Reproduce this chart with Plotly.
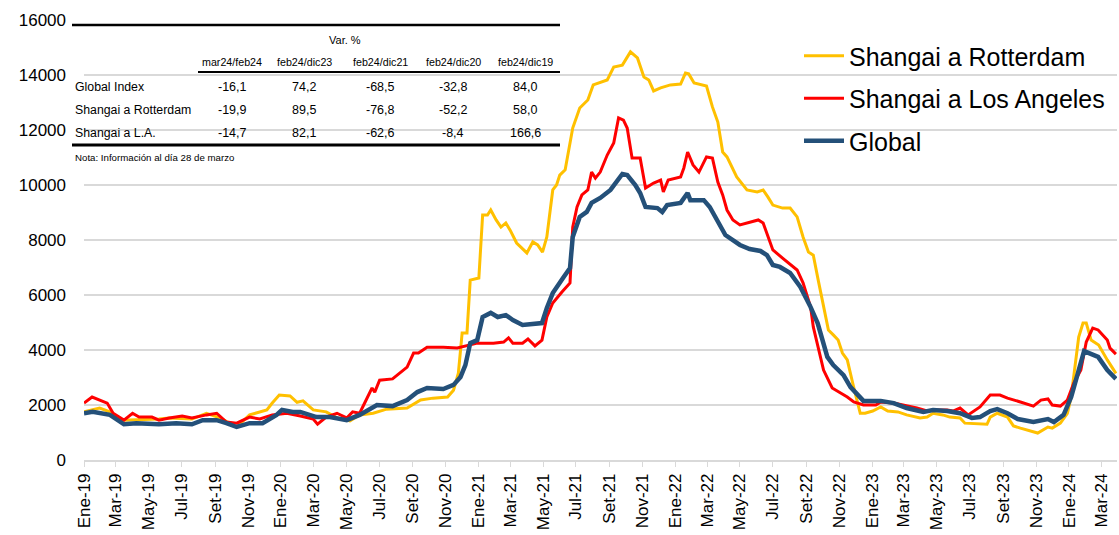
import plotly.graph_objects as go

# ---------------- DATA ----------------
rot_dates = ["2019-01-01","2019-01-30","2019-02-18","2019-03-12","2019-05-20","2019-06-08","2019-07-20","2019-08-16",
 "2019-09-10","2019-10-11","2019-11-04","2019-12-06","2019-12-16","2019-12-29","2020-01-18","2020-01-31","2020-02-11",
 "2020-03-01","2020-03-25","2020-04-14","2020-05-08","2020-05-26","2020-06-20","2020-07-15","2020-08-22","2020-09-16",
 "2020-10-09","2020-11-05","2020-11-16","2020-11-25","2020-12-02","2020-12-11","2020-12-17","2021-01-02","2021-01-09",
 "2021-01-18","2021-01-24","2021-02-03","2021-02-12","2021-02-21","2021-03-01","2021-03-13","2021-04-01","2021-04-12",
 "2021-04-21","2021-04-30","2021-05-08","2021-05-19","2021-05-26","2021-06-01","2021-06-11","2021-06-20","2021-06-25",
 "2021-07-08","2021-07-23","2021-08-02","2021-08-28","2021-09-09","2021-09-25","2021-10-10","2021-10-23","2021-11-04",
 "2021-11-13","2021-11-22","2021-12-05","2021-12-23","2022-01-11","2022-01-20","2022-01-26","2022-02-05","2022-02-28",
 "2022-03-11","2022-03-21","2022-03-30","2022-04-07","2022-04-25","2022-05-14","2022-06-02","2022-06-13","2022-06-22",
 "2022-07-01","2022-07-19","2022-08-02","2022-08-15","2022-08-26","2022-09-05","2022-09-14","2022-09-23","2022-10-12",
 "2022-10-21","2022-10-30","2022-11-07","2022-11-16","2022-11-26","2022-12-10","2022-12-19","2023-01-02","2023-01-17",
 "2023-01-30","2023-02-18","2023-03-06","2023-03-31","2023-04-13","2023-04-24","2023-05-12","2023-05-25","2023-06-13",
 "2023-06-22","2023-08-02","2023-08-08","2023-08-21","2023-09-09","2023-09-20","2023-10-03","2023-11-04","2023-11-23",
 "2023-12-01","2023-12-16","2023-12-29","2024-01-05","2024-01-19","2024-01-27","2024-02-02","2024-02-11","2024-02-25",
 "2024-03-12","2024-03-23","2024-03-28"]
rot_vals = [1750,1890,1750,1450,1490,1530,1490,1700,
 1530,1200,1640,1820,2070,2360,2330,2100,2150,
 1820,1750,1530,1420,1640,1700,1850,1890,2180,
 2250,2290,2540,3160,4620,4620,6540,6620,8910,
 8910,9090,8730,8470,8620,8360,7890,7530,7930,
 7820,7560,8110,9820,10000,10360,10550,11560,12070,
 12800,13090,13640,13820,14290,14360,14840,14620,13930,
 13820,13420,13530,13640,13670,14070,14040,13710,13600,
 12840,12290,11200,11020,10290,9820,9750,9820,9560,
 9270,9160,9160,8840,8110,7560,7450,6550,4730,
 4550,4360,3890,3640,2800,1700,1700,1780,1930,
 1780,1750,1640,1530,1560,1700,1640,1560,1530,
 1340,1300,1560,1700,1560,1240,1160,980,1200,
 1160,1340,1700,2290,4470,4980,4980,4360,4180,
 3640,3270,3150]

la_dates = ["2019-01-01","2019-01-16","2019-02-13","2019-02-24","2019-03-16","2019-04-01","2019-04-13","2019-05-07",
 "2019-05-20","2019-06-08","2019-07-02","2019-07-20","2019-08-16","2019-09-04","2019-09-22","2019-10-11","2019-11-04",
 "2019-11-23","2019-12-16","2020-01-12","2020-02-06","2020-03-01","2020-03-09","2020-03-25","2020-04-14","2020-05-02",
 "2020-05-13","2020-05-26","2020-06-05","2020-06-18","2020-06-23","2020-07-02","2020-07-26","2020-08-09","2020-08-22",
 "2020-09-03","2020-09-12","2020-09-28","2020-10-28","2020-11-23","2020-12-30","2021-01-29","2021-02-17","2021-02-26",
 "2021-03-06","2021-03-24","2021-04-03","2021-04-16","2021-04-29","2021-05-08","2021-05-19","2021-06-05","2021-06-20",
 "2021-06-25","2021-07-03","2021-07-12","2021-07-23","2021-07-30","2021-08-06","2021-08-15","2021-08-28","2021-09-09",
 "2021-09-18","2021-09-27","2021-10-04","2021-10-13","2021-10-28","2021-11-07","2021-11-22","2021-12-05","2021-12-10",
 "2021-12-19","2022-01-11","2022-01-17","2022-01-24","2022-02-03","2022-02-14","2022-02-28","2022-03-11","2022-03-21",
 "2022-03-30","2022-04-07","2022-04-18","2022-05-01","2022-05-19","2022-06-04","2022-06-13","2022-06-22","2022-07-01",
 "2022-07-19","2022-08-15","2022-08-26","2022-09-09","2022-09-14","2022-10-03","2022-10-19","2022-11-04","2022-11-16",
 "2022-11-28","2022-12-16","2023-01-08","2023-01-17","2023-02-10","2023-02-28","2023-03-25","2023-04-13","2023-04-24",
 "2023-05-20","2023-05-31","2023-06-13","2023-06-28","2023-07-20","2023-08-08","2023-08-26","2023-09-09","2023-10-03",
 "2023-10-27","2023-11-10","2023-11-23","2023-12-01","2023-12-16","2023-12-29","2024-01-10","2024-01-23","2024-02-02",
 "2024-02-14","2024-02-24","2024-03-12","2024-03-17","2024-03-28"]
la_vals = [2070,2290,2070,1700,1450,1700,1560,1560,
 1450,1530,1600,1530,1640,1700,1380,1340,1560,
 1490,1640,1700,1600,1490,1300,1560,1700,1530,
 1750,1700,2100,2620,2470,2900,2950,3160,3380,
 3890,3890,4100,4100,4070,4250,4250,4290,4440,
 4250,4250,4400,4150,4360,5200,5710,6110,6440,
 8470,9200,9640,9820,10470,10250,10470,11090,11530,
 12440,12360,12070,10980,10980,9890,10070,10180,9750,
 10180,10290,10620,11200,10730,10470,11020,10980,10110,
 9640,9090,8730,8550,8660,8730,8620,8110,7640,
 7340,6910,6440,5560,4840,3270,2620,2440,2290,
 2110,2000,2000,2110,2070,2000,1890,1780,1820,
 1820,1780,1890,1640,1930,2360,2360,2250,2110,
 1960,2180,2220,2000,1960,2180,2800,3270,4290,
 4800,4730,4360,4070,3850]

glob_dates = ["2019-01-01","2019-01-17","2019-02-18","2019-03-16","2019-04-08","2019-05-20","2019-06-21","2019-07-20",
 "2019-08-09","2019-09-04","2019-09-22","2019-10-11","2019-11-04","2019-11-28","2019-12-24","2020-01-03","2020-01-23",
 "2020-02-06","2020-03-07","2020-04-01","2020-05-02","2020-05-26","2020-06-27","2020-07-26","2020-08-22","2020-09-10",
 "2020-09-28","2020-10-28","2020-11-16","2020-11-29","2020-12-08","2020-12-17","2020-12-30","2021-01-09","2021-01-24",
 "2021-02-06","2021-02-21","2021-03-06","2021-03-24","2021-04-19","2021-04-29","2021-05-08","2021-05-19","2021-06-07",
 "2021-06-20","2021-06-25","2021-07-08","2021-07-21","2021-07-30","2021-08-15","2021-09-03","2021-09-25","2021-10-04",
 "2021-10-19","2021-10-28","2021-11-07","2021-11-29","2021-12-08","2021-12-17","2022-01-11","2022-01-24","2022-01-29",
 "2022-02-23","2022-03-06","2022-03-19","2022-04-04","2022-05-01","2022-05-19","2022-06-08","2022-06-20","2022-07-01",
 "2022-07-14","2022-08-02","2022-08-21","2022-09-09","2022-09-22","2022-10-10","2022-10-21","2022-11-09","2022-11-22",
 "2022-12-16","2023-01-17","2023-02-10","2023-03-06","2023-04-06","2023-04-24","2023-05-20","2023-06-13","2023-07-05",
 "2023-07-20","2023-08-08","2023-08-21","2023-09-09","2023-09-28","2023-10-27","2023-11-23","2023-12-04","2023-12-22",
 "2024-01-05","2024-01-18","2024-01-29","2024-02-24","2024-03-12","2024-03-28"]
glob_vals = [1700,1750,1640,1300,1340,1300,1340,1300,
 1450,1450,1340,1200,1340,1340,1640,1820,1750,
 1750,1560,1560,1450,1640,2000,1960,2180,2470,
 2620,2580,2730,3020,3450,4250,4360,5200,5350,
 5200,5270,5090,4910,4950,4980,5530,6070,6620,
 6980,8110,8840,9020,9350,9530,9820,10400,10360,
 10000,9710,9200,9160,9020,9270,9350,9710,9450,
 9450,9200,8730,8180,7820,7670,7600,7450,7090,
 7020,6800,6290,5560,4980,3750,3450,3090,2650,
 2150,2150,2070,1890,1750,1820,1780,1700,1530,
 1560,1780,1850,1700,1490,1380,1490,1380,1640,
 2290,3160,3960,3750,3270,2950]

series_names = ["Shangai a Rotterdam", "Shangai a Los Angeles", "Global"]
series_colors = ["#FFC000", "#FF0000", "#245079"]
series_widths = [3, 3, 4.5]

tick_months = ["Ene", "Mar", "May", "Jul", "Set", "Nov"]
tick_years = [2019, 2020, 2021, 2022, 2023, 2024]

table_cols = ["mar24/feb24", "feb24/dic23", "feb24/dic21", "feb24/dic20", "feb24/dic19"]
table_rows = ["Global Index", "Shangai a Rotterdam", "Shangai a L.A."]
table_vals = [["-16,1", "74,2", "-68,5", "-32,8", "84,0"],
              ["-19,9", "89,5", "-76,8", "-52,2", "58,0"],
              ["-14,7", "82,1", "-62,6", "-8,4", "166,6"]]
table_title = "Var. %"
table_note = "Nota: Información al día 28 de marzo"

# ---------------- FIGURE ----------------
W, H = 1119, 535
L, R, T, B = 84, 2, 20, 75


def px2x(p):
    return (p - L) / (W - L - R)


def py2y(p):
    return (H - B - p) / (H - T - B)


fig = go.Figure()
xs = [rot_dates, la_dates, glob_dates]
ys = [rot_vals, la_vals, glob_vals]
for i in range(3):
    fig.add_trace(go.Scatter(
        x=xs[i], y=ys[i], mode="lines", name=series_names[i],
        legendgroup=f"g{i}",
        line=dict(color=series_colors[i], width=series_widths[i]),
    ))

tickvals, ticktext = [], []
for yr in tick_years:
    for mi, mname in enumerate(tick_months):
        month = 1 + 2 * mi
        if yr == 2024 and month > 3:
            break
        tickvals.append(f"{yr}-{month:02d}-01")
        ticktext.append(f"{mname}-{str(yr)[2:]}")

font_main = "Liberation Sans, Arial, sans-serif"
font_tab = "Liberation Sans, Arial, sans-serif"

fig.update_layout(
    width=W, height=H,
    margin=dict(l=L, r=R, t=T, b=B),
    paper_bgcolor="white", plot_bgcolor="white",
    font=dict(family=font_main, size=17, color="black"),
    showlegend=True,
    legend=dict(x=px2x(799), y=py2y(33), xanchor="left", yanchor="top",
                font=dict(size=25, family=font_main, color="black"),
                bgcolor="rgba(0,0,0,0)", tracegroupgap=7, itemwidth=40),
    xaxis=dict(type="date", range=["2019-01-01", "2024-03-30"],
               tickvals=tickvals, ticktext=ticktext, tickangle=-90,
               tickfont=dict(size=17, family=font_main),
               showgrid=False, showline=True, linecolor="#d9d9d9", linewidth=1.5,
               ticks="outside", tickcolor="#d9d9d9", ticklen=5, zeroline=False),
    yaxis=dict(range=[0, 16000], dtick=2000, tickformat="d",
               tickfont=dict(size=17, family=font_main),
               showgrid=True, gridcolor="#d9d9d9", gridwidth=1.5,
               zeroline=False, showline=False, ticks="", ticklabelstandoff=17),
)

# white background behind table (hides gridlines)
fig.add_shape(type="rect", xref="paper", yref="paper",
              x0=px2x(68), x1=px2x(562), y0=py2y(170), y1=py2y(22),
              fillcolor="white", line=dict(width=0), layer="between")
# table rules
fig.add_shape(type="line", xref="paper", yref="paper", x0=px2x(72), x1=px2x(560),
              y0=py2y(25), y1=py2y(25), line=dict(color="black", width=2.5))
fig.add_shape(type="line", xref="paper", yref="paper", x0=px2x(198), x1=px2x(560),
              y0=py2y(72), y1=py2y(72), line=dict(color="black", width=2))
fig.add_shape(type="line", xref="paper", yref="paper", x0=px2x(72), x1=px2x(560),
              y0=py2y(145), y1=py2y(145), line=dict(color="black", width=3))

col_px = [232, 304, 380, 453, 525]
row_py = [87, 110, 133]
ann = []
ann.append(dict(x=px2x(345), y=py2y(40), text=table_title, showarrow=False,
                xref="paper", yref="paper", xanchor="center", yanchor="middle",
                font=dict(size=11, family=font_tab)))
for j, c in enumerate(table_cols):
    ann.append(dict(x=px2x(col_px[j]), y=py2y(62), text=c, showarrow=False,
                    xref="paper", yref="paper", xanchor="center", yanchor="middle",
                    font=dict(size=10.7, family=font_tab)))
for i, r in enumerate(table_rows):
    ann.append(dict(x=px2x(73), y=py2y(row_py[i]), text=r, showarrow=False,
                    xref="paper", yref="paper", xanchor="left", yanchor="middle",
                    font=dict(size=12.3, family=font_tab)))
    for j, v in enumerate(table_vals[i]):
        ann.append(dict(x=px2x(col_px[j]), y=py2y(row_py[i]), text=v, showarrow=False,
                        xref="paper", yref="paper", xanchor="center", yanchor="middle",
                        font=dict(size=12.5, family=font_tab)))
ann.append(dict(x=px2x(73), y=py2y(158), text=table_note, showarrow=False,
                xref="paper", yref="paper", xanchor="left", yanchor="middle",
                font=dict(size=9.7, family=font_tab)))
fig.update_layout(annotations=ann)

fig.write_html("out.html",
               config={"displayModeBar": False},
               post_script="document.body.style.margin='0';document.body.style.overflow='hidden';")
